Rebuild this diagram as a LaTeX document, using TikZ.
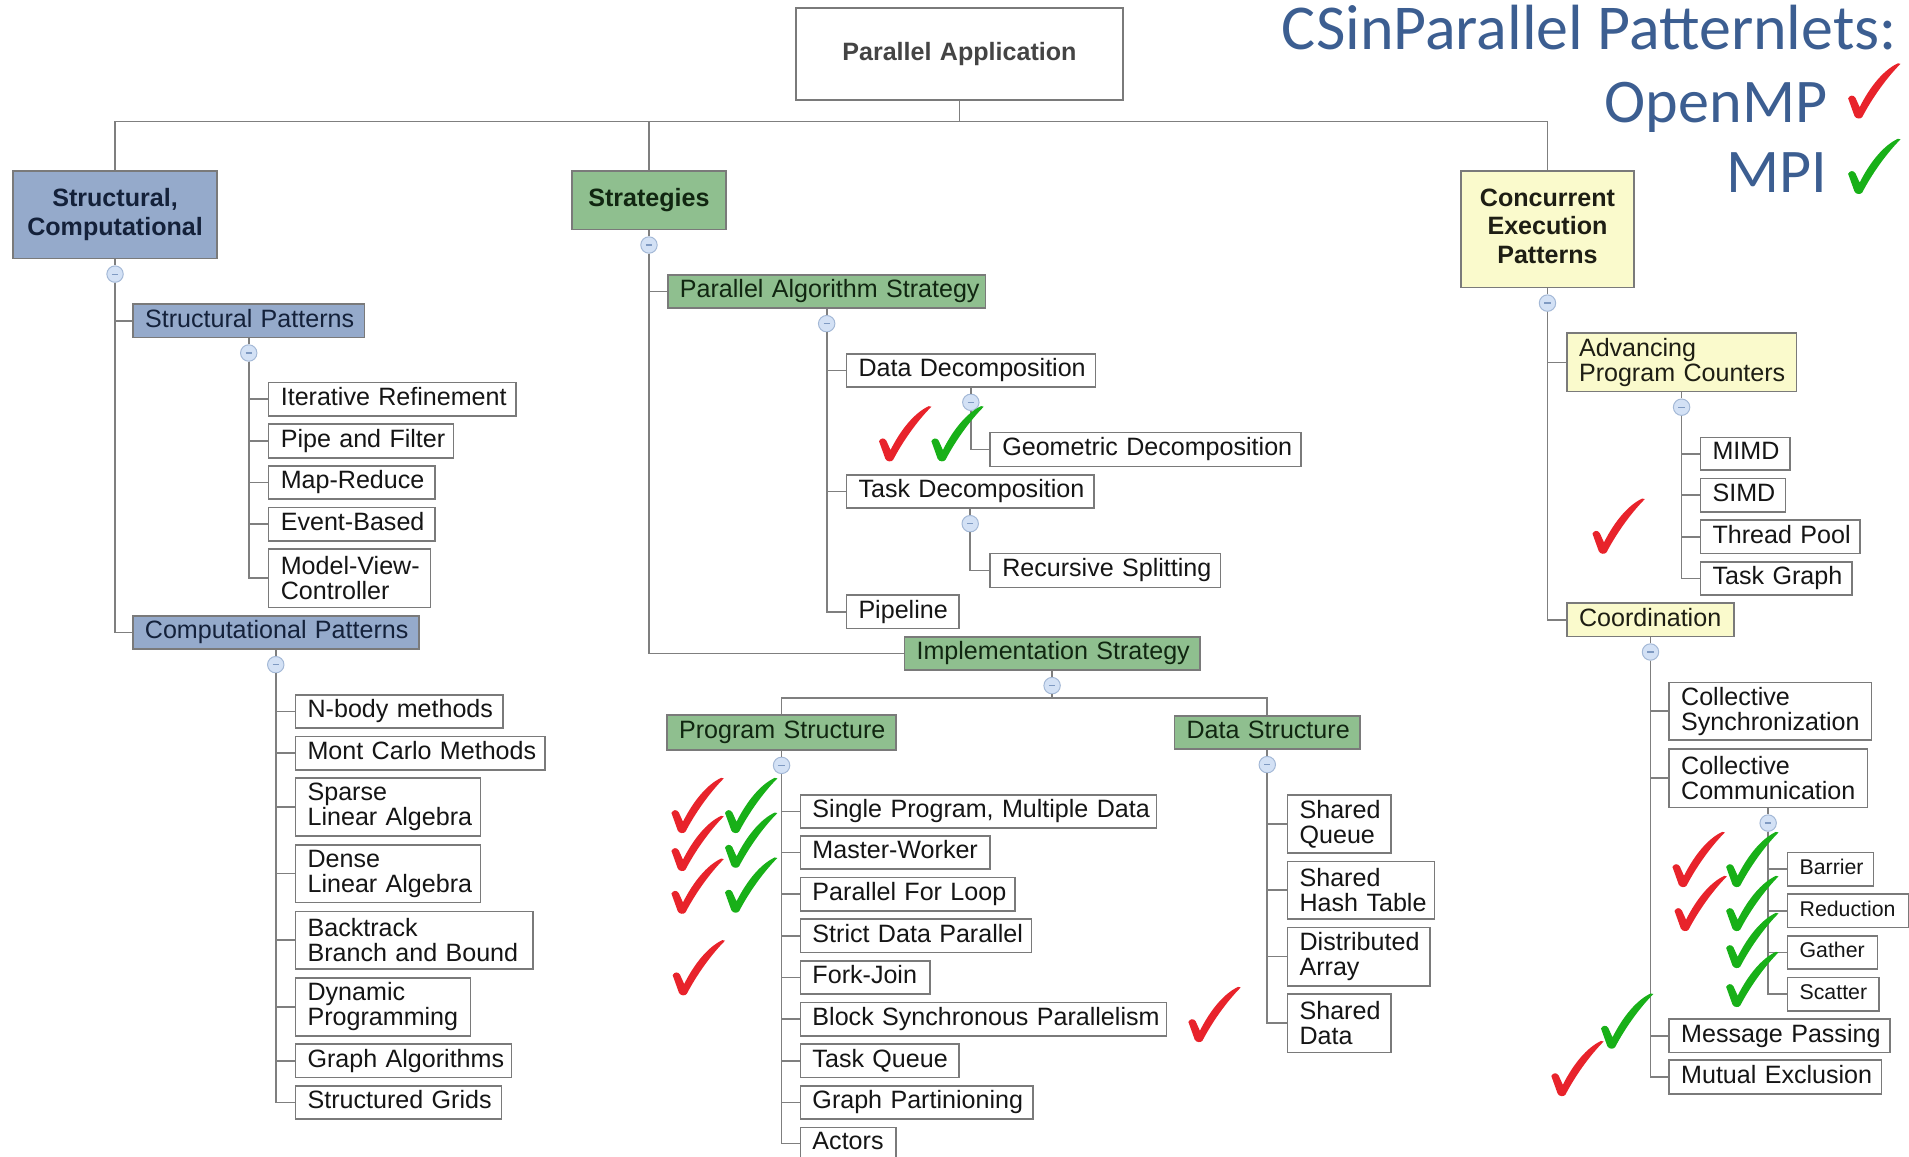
\documentclass[tikz,border=0pt]{standalone}
\usepackage{fontspec}
\setmainfont{Liberation Sans}
\newfontfamily\titlefont{Carlito}
\usetikzlibrary{positioning,calc}
\definecolor{lncol}{HTML}{7F7F7F}
\definecolor{bdcol}{HTML}{7A7A7A}
\definecolor{txtcol}{HTML}{151515}
\definecolor{bluecol}{HTML}{95AACB}
\definecolor{bluetxt}{HTML}{14213A}
\definecolor{greencol}{HTML}{8FBF8F}
\definecolor{greentxt}{HTML}{112611}
\definecolor{yelcol}{HTML}{FAFACC}
\definecolor{yeltxt}{HTML}{1E1E14}
\definecolor{patxt}{HTML}{444444}
\definecolor{ccfill}{HTML}{D3E1F5}
\definecolor{ccdraw}{HTML}{A3B8D6}
\definecolor{ccminus}{HTML}{7F9AC2}
\definecolor{titleblue}{HTML}{3C5E91}
\definecolor{ckred}{HTML}{E8232B}
\definecolor{ckgreen}{HTML}{18B018}

\tikzset{
  ln/.style={draw=lncol, line width=1.4pt},
  bxbase/.style={draw=bdcol, line width=1.3pt, inner xsep=0pt, inner ysep=0pt,
    font=\fontsize{20.6}{20.5}\selectfont, text=txtcol, align=left},
  sl/.style={text depth=4.6pt},
  wbox/.style={bxbase, fill=white},
  smallbox/.style={wbox, font=\fontsize{17.5}{17.5}\selectfont},
  bluebox/.style={bxbase, fill=bluecol, text=bluetxt},
  greenbox/.style={bxbase, fill=greencol, text=greentxt},
  yelbox/.style={bxbase, fill=yelcol, text=yeltxt},
  hdr/.style={font=\bfseries\fontsize{20.6}{23.4}\selectfont, align=center},
  cc/.style={circle, draw=ccdraw, fill=ccfill, line width=0.8pt, minimum size=13.5pt, inner sep=0pt,
    path picture={\draw[ccminus, line width=1pt] ([xshift=-2.6pt]path picture bounding box.center) -- ([xshift=2.6pt]path picture bounding box.center);}},
  ttl/.style={font=\titlefont\fontsize{51}{51}\selectfont, text=titleblue, inner sep=0pt, anchor=base east}
}

\newcommand\nl{\\\hspace*{10pt}}
% #1 style, #2 name, #3 left, #4 top, #5 right, #6 bottom, #7 text
\newcommand\bxnode[7]{%
  \pgfmathsetlengthmacro\bxw{#5-#3}%
  \pgfmathsetlengthmacro\bxh{#6-#4}%
  \node[#1, anchor=north west, text width=\bxw, minimum height=\bxh] (#2) at (#3,#4) {\hspace*{10pt}#7};}
\newcommand\bxone[7]{\bxnode{#1,sl}{#2}{#3}{#4}{#5}{#6}{#7}}
\newcommand\hdnode[7]{%
  \pgfmathsetlengthmacro\bxw{#5-#3}%
  \pgfmathsetlengthmacro\bxh{#6-#4}%
  \node[#1, hdr, anchor=north west, text width=\bxw, minimum height=\bxh] (#2) at (#3,#4) {#7};}
% #1 left, #2 bottom, #3 colour
\newcommand\drawcheck[3]{%
  \begin{scope}[shift={(#1,#2)}, x=43pt, y=45pt]
    \fill[#3] (0.00,0.36) .. controls (0.03,0.42) and (0.10,0.43) .. (0.14,0.37)
      -- (0.22,0.20) .. controls (0.42,0.58) and (0.68,0.88) .. (0.95,1.00)
      -- (1.00,0.99) .. controls (0.72,0.72) and (0.45,0.35) .. (0.27,0.02)
      .. controls (0.24,-0.02) and (0.15,-0.02) .. (0.12,0.04) -- cycle;
  \end{scope}}

\begin{document}
\begin{tikzpicture}[x=1pt, y=-1pt]
\fill[white] (0,0) rectangle (1568,950);
\useasboundingbox (0,0) rectangle (1568,950);

% title
\node[ttl, font=\titlefont\fontsize{52.5}{52.5}\selectfont] (t1) at (1558,40.5) {CSinParallel Patternlets:};
\node[ttl] (t2) at (1501,101) {OpenMP};
\node[ttl] (t3) at (1501,158) {MPI};

% top level
\hdnode{wbox, text=patxt}{PA}{653}{6}{921.8}{81.6}{Parallel Application}
\hdnode{bluebox}{SC}{9.9}{139.6}{177.8}{211.7}{Structural,\\Computational}
\hdnode{greenbox}{Str}{469.3}{139.6}{595.5}{187.8}{Strategies}
\hdnode{yelbox}{CEP}{1199.3}{139.6}{1341.5}{235.5}{Concurrent\\Execution\\Patterns\par\vspace*{5pt}}

% left column
\bxone{bluebox}{SP}{108.5}{249.1}{298.8}{276.5}{Structural Patterns}
\bxone{wbox}{IR}{220}{313.5}{423.4}{340.9}{Iterative Refinement}
\bxone{wbox}{PF}{220}{347.7}{371.8}{375.6}{Pipe and Filter}
\bxone{wbox}{MR}{220}{381.9}{356.8}{409.3}{Map-Reduce}
\bxone{wbox}{EB}{220}{416.2}{356.8}{443.5}{Event-Based}
\bxnode{wbox}{MVC}{220}{450.4}{353}{498.3}{Model-View-\nl Controller}
\bxone{bluebox}{CP}{108.4}{505.1}{343.3}{532.5}{Computational Patterns}
\bxone{wbox}{NB}{242}{570}{412.7}{597.4}{N-body methods}
\bxone{wbox}{MC}{242}{604.3}{447}{631.6}{Mont Carlo Methods}
\bxnode{wbox}{SLA}{242}{638.4}{393.9}{685.8}{Sparse\nl Linear Algebra}
\bxnode{wbox}{DLA}{242}{693.2}{393.9}{740.6}{Dense\nl Linear Algebra}
\bxnode{wbox}{BB}{242}{748}{436.9}{795.4}{Backtrack\nl Branch and Bound}
\bxnode{wbox}{DP}{242}{802.7}{385.7}{850.1}{Dynamic\nl Programming}
\bxone{wbox}{GAl}{242}{857}{419.6}{884.3}{Graph Algorithms}
\bxone{wbox}{SG}{242}{891.2}{411.1}{918.6}{Structured Grids}

% strategies column
\bxone{greenbox}{PAS}{547.8}{225}{808.9}{252.4}{Parallel Algorithm Strategy}
\bxone{wbox}{DD}{694.5}{290.2}{899}{317}{Data Decomposition}
\bxone{wbox}{GD}{812.6}{354.6}{1068}{382.5}{Geometric Decomposition}
\bxone{wbox}{TD}{694.5}{389.3}{898}{416.7}{Task Decomposition}
\bxone{wbox}{RS}{812.6}{453.9}{1001.7}{481.9}{Recursive Splitting}
\bxone{wbox}{PL}{694.5}{488.2}{786.9}{515.5}{Pipeline}
\bxone{greenbox}{IS}{742.2}{522.4}{984.8}{549.7}{Implementation Strategy}
\bxone{greenbox}{PS}{547.1}{586.7}{735.5}{615.2}{Program Structure}
\bxone{greenbox}{DS}{964}{587.3}{1116.5}{614.6}{Data Structure}
\bxone{wbox}{SPMD}{656.7}{652.2}{949.3}{679.5}{Single Program, Multiple Data}
\bxone{wbox}{MW}{656.7}{685.8}{812.6}{713.2}{Master-Worker}
\bxone{wbox}{PFL}{656.7}{720}{833.1}{747.4}{Parallel For Loop}
\bxone{wbox}{SDP}{656.7}{754.3}{846.7}{781.7}{Strict Data Parallel}
\bxone{wbox}{FJ}{656.7}{788.5}{763}{815.9}{Fork-Join}
\bxone{wbox}{BSP}{656.7}{822.7}{957.4}{850.1}{Block Synchronous Parallelism}
\bxone{wbox}{TQ}{656.7}{857}{786.9}{884.3}{Task Queue}
\bxone{wbox}{GP}{656.7}{891.2}{847.7}{918.6}{Graph Partinioning}
\bxone{wbox}{AC}{656.7}{925.4}{735.5}{951.8}{Actors}
\bxnode{wbox}{SQ}{1056.8}{652.2}{1141.7}{700}{Shared\nl Queue}
\bxnode{wbox}{SHT}{1056.8}{706.9}{1177.6}{754.3}{Shared\nl Hash Table}
\bxnode{wbox}{DA}{1056.8}{761.1}{1174.1}{809}{Distributed\nl Array}
\bxnode{wbox}{SD}{1056.8}{815.9}{1141.7}{863.8}{Shared\nl Data}

% concurrent execution column
\bxnode{yelbox}{APC}{1286.3}{273}{1474.8}{321}{Advancing\nl Program Counters}
\bxone{wbox}{MIMD}{1396}{358.7}{1469.6}{385.5}{MIMD}
\bxone{wbox}{SIMD}{1396}{392.3}{1465.8}{419.7}{SIMD}
\bxone{wbox}{TP}{1396}{426.6}{1527.2}{453.9}{Thread Pool}
\bxone{wbox}{TG}{1396}{460.8}{1520.3}{488.2}{Task Graph}
\bxone{yelbox}{CO}{1286.3}{494.7}{1423.7}{522.1}{Coordination}
\bxnode{wbox}{CS}{1370.2}{559.9}{1536.6}{607.3}{Collective\nl Synchronization}
\bxnode{wbox}{CCm}{1370.2}{614.6}{1533.1}{662.6}{Collective\nl Communication}
\bxnode{smallbox, text depth=3.9pt}{BA}{1467.5}{699.5}{1538}{726.9}{Barrier}
\bxnode{smallbox, text depth=3.9pt}{RE}{1467.5}{733.7}{1567}{761.1}{Reduction}
\bxnode{smallbox, text depth=3.9pt}{GAt}{1467.5}{768}{1541.5}{795.4}{Gather}
\bxnode{smallbox, text depth=3.9pt}{SCt}{1467.5}{802.2}{1542.8}{829.6}{Scatter}
\bxone{wbox}{MP}{1370.2}{836.4}{1551.5}{863.8}{Message Passing}
\bxone{wbox}{ME}{1370.2}{870.1}{1544.6}{898}{Mutual Exclusion}

% collapse circles
\foreach \p in {SC,Str,CEP,SP,CP,PAS,DD,TD,IS,PS,DS,APC,CO,CCm}
  \node[cc, below=5pt of \p] (c\p) {};

% connectors
\coordinate (bus) at ($(PA.south)+(0,17)$);
\draw[ln] (PA) -- (bus);
\foreach \c in {SC,Str,CEP} \draw[ln] (bus) -| (\c);
\foreach \p in {SC,Str,CEP,SP,CP,PAS,DD,TD,IS,PS,DS,APC,CO,CCm}
  \draw[ln] (\p) -- (c\p);
\foreach \c in {SP,CP} \draw[ln] (cSC) |- (\c);
\foreach \c in {IR,PF,MR,EB,MVC} \draw[ln] (cSP) |- (\c);
\foreach \c in {NB,MC,SLA,DLA,BB,DP,GAl,SG} \draw[ln] (cCP) |- (\c);
\foreach \c in {PAS,IS} \draw[ln] (cStr) |- (\c);
\foreach \c in {DD,TD,PL} \draw[ln] (cPAS) |- (\c);
\draw[ln] (cDD) |- (GD);
\draw[ln] (cTD) |- (RS);
\coordinate (isbus) at ($(cIS)+(0,10.4)$);
\draw[ln] (cIS) -- (isbus);
\foreach \c in {PS,DS} \draw[ln] (isbus) -| (\c);
\foreach \c in {SPMD,MW,PFL,SDP,FJ,BSP,TQ,GP,AC} \draw[ln] (cPS) |- (\c);
\foreach \c in {SQ,SHT,DA,SD} \draw[ln] (cDS) |- (\c);
\foreach \c in {APC,CO} \draw[ln] (cCEP) |- (\c);
\foreach \c in {MIMD,SIMD,TP,TG} \draw[ln] (cAPC) |- (\c);
\foreach \c in {CS,CCm,MP,ME} \draw[ln] (cCO) |- (\c);
\foreach \c in {BA,RE,GAt,SCt} \draw[ln] (cCCm) |- (\c);

% check marks
\drawcheck{1518}{97}{ckred}
\drawcheck{1518}{159}{ckgreen}
\drawcheck{722}{378.6}{ckred}
\drawcheck{765}{378.6}{ckgreen}
\drawcheck{1308}{454.5}{ckred}
\drawcheck{551.5}{683.9}{ckred}
\drawcheck{595.5}{683.9}{ckgreen}
\drawcheck{551.5}{715.1}{ckred}
\drawcheck{595.5}{712.4}{ckgreen}
\drawcheck{551.5}{750.2}{ckred}
\drawcheck{595.5}{749.3}{ckgreen}
\drawcheck{552.5}{817.2}{ckred}
\drawcheck{976.1}{855.6}{ckred}
\drawcheck{1373.7}{728.3}{ckred}
\drawcheck{1417.8}{728.3}{ckgreen}
\drawcheck{1375.4}{764.4}{ckred}
\drawcheck{1417.8}{764.4}{ckgreen}
\drawcheck{1417.8}{794.8}{ckgreen}
\drawcheck{1417.8}{826.8}{ckgreen}
\drawcheck{1315}{861}{ckgreen}
\drawcheck{1274.2}{900}{ckred}
\end{tikzpicture}
\end{document}
